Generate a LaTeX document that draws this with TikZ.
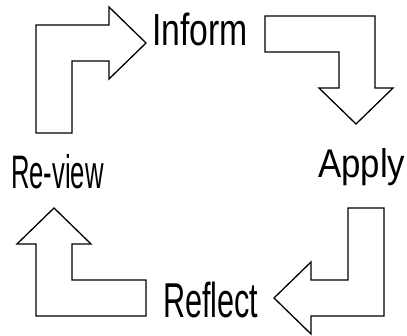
\documentclass[tikz,border=0pt]{standalone}
\usepackage{fontspec}
\setmainfont{Liberation Sans}
\begin{document}
\begin{tikzpicture}[x=1pt,y=-1pt,
  blockarrow/.style={draw=black,line width=1.3pt,line join=miter,fill=white},
  lbl/.style={inner sep=0pt,anchor=base west}]
\useasboundingbox (0,0) rectangle (407,336);
% arrow 1: up then right
\draw[blockarrow] (36,133) -- (36,25) -- (109,25) -- (109,7) -- (146,43) -- (109,79) -- (109,61) -- (72,61) -- (72,133) -- cycle;
% arrow 2: right then down
\draw[blockarrow] (265,16) -- (375,16) -- (375,88) -- (393,88) -- (356,124) -- (319,88) -- (339,88) -- (339,52) -- (265,52) -- cycle;
% arrow 3: down then left
\draw[blockarrow] (348,208) -- (384,208) -- (384,316) -- (311,316) -- (311,334) -- (274,298) -- (311,262) -- (311,280) -- (348,280) -- cycle;
% arrow 4: left then up
\draw[blockarrow] (146,280) -- (146,316) -- (36,316) -- (36,244) -- (17,244) -- (54,208) -- (91,244) -- (72,244) -- (72,280) -- cycle;
% labels
\node[lbl] (inform) at (152,46) {\fontsize{45}{45}\selectfont\scalebox{0.75}[1]{Inform}};
\node[lbl] (apply) at (318,178) {\fontsize{40}{40}\selectfont\scalebox{0.87}[1]{Apply}};
\node[lbl] (review) at (11,189) {\fontsize{47}{47}\selectfont\scalebox{0.545}[1]{Re-view}};
\node[lbl] (reflect) at (163,318) {\fontsize{49}{49}\selectfont\scalebox{0.625}[1]{Reflect}};
\end{tikzpicture}
\end{document}
